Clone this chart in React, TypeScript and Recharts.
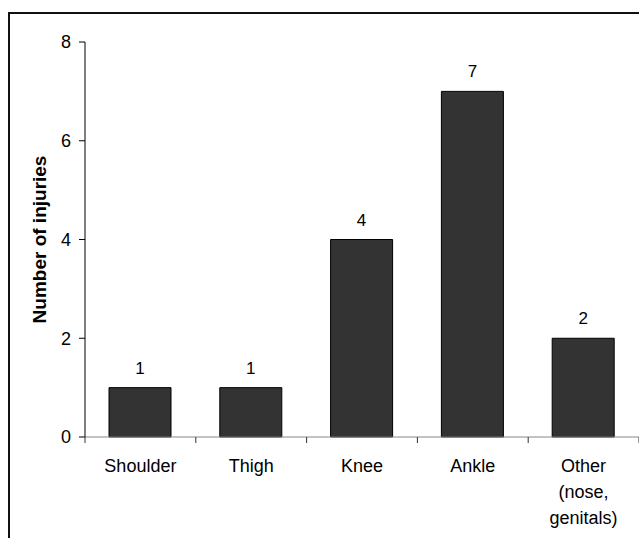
import { BarChart, Bar, XAxis, YAxis, LabelList, Label } from "recharts";

// Injury counts by body site.
const categories = ["Shoulder", "Thigh", "Knee", "Ankle", "Other\n(nose,\ngenitals)"];
const injuries = [1, 1, 4, 7, 2];
const yTicks = [0, 2, 4, 6, 8];

const data = categories.map((name, i) => ({ name, value: injuries[i] }));

const FONT = '"Liberation Sans", Arial, sans-serif';
const CHART_W = 639;
const CHART_H = 538;
const Y_AXIS_W = 85;

interface TickProps {
  x?: number;
  y?: number;
  width?: number;
  index?: number;
  visibleTicksCount?: number;
  payload?: { value: string };
}

// Category label, split over several lines, with tick marks on the
// boundaries between categories rather than on their centres.
function CategoryTick({ x = 0, y = 0, width, index = 0, visibleTicksCount, payload }: TickProps) {
  const count = visibleTicksCount ?? categories.length;
  const band = (Number(width) || CHART_W - Y_AXIS_W) / count;
  const lines = String(payload?.value ?? "").split("\n");
  const edges = [x - band / 2];
  if (index === count - 1) edges.push(x + band / 2);
  return (
    <g>
      {edges.map((ex) => (
        <line key={ex} x1={ex} x2={ex} y1={y} y2={y + 6} stroke="#333" />
      ))}
      <text x={x} y={y} textAnchor="middle" fontSize={18} fill="#000" fontFamily={FONT}>
        {lines.map((line, i) => (
          <tspan key={i} x={x} dy={i === 0 ? 35 : 26}>
            {line}
          </tspan>
        ))}
      </text>
    </g>
  );
}

export default function App() {
  return (
    <div
      style={{
        position: "absolute",
        left: 0,
        top: 0,
        width: CHART_W,
        height: CHART_H,
        overflow: "hidden",
        background: "#fff",
      }}
    >
      <div
        style={{
          position: "absolute",
          left: 8,
          top: 12,
          width: 700,
          height: 600,
          borderLeft: "2px solid #111",
          borderTop: "2px solid #111",
        }}
      />
      <BarChart
        width={CHART_W}
        height={CHART_H}
        data={data}
        margin={{ top: 42, right: 0, bottom: 0, left: 0 }}
        style={{ position: "absolute", left: 0, top: 0, fontFamily: FONT }}
      >
        <XAxis
          dataKey="name"
          type="category"
          interval={0}
          height={101}
          tickLine={false}
          tickSize={0}
          tickMargin={0}
          axisLine={{ stroke: "#888" }}
          tick={<CategoryTick />}
        />
        <YAxis
          width={Y_AXIS_W}
          domain={[0, 8]}
          ticks={yTicks}
          interval={0}
          tickSize={6}
          tickMargin={8}
          axisLine={{ stroke: "#000" }}
          tickLine={{ stroke: "#000" }}
          tick={{ fontSize: 18, fill: "#000", fontFamily: FONT }}
        >
          <Label
            value="Number of injuries"
            angle={-90}
            position="center"
            dx={-3}
            style={{ fontSize: 19, fontWeight: "bold", fill: "#000", fontFamily: FONT }}
          />
        </YAxis>
        <Bar
          dataKey="value"
          barSize={62}
          fill="#333333"
          stroke="#000"
          strokeWidth={1}
          isAnimationActive={false}
        >
          <LabelList
            dataKey="value"
            position="top"
            offset={14}
            fill="#000"
            fontSize={17}
            fontFamily={FONT}
          />
        </Bar>
      </BarChart>
    </div>
  );
}
